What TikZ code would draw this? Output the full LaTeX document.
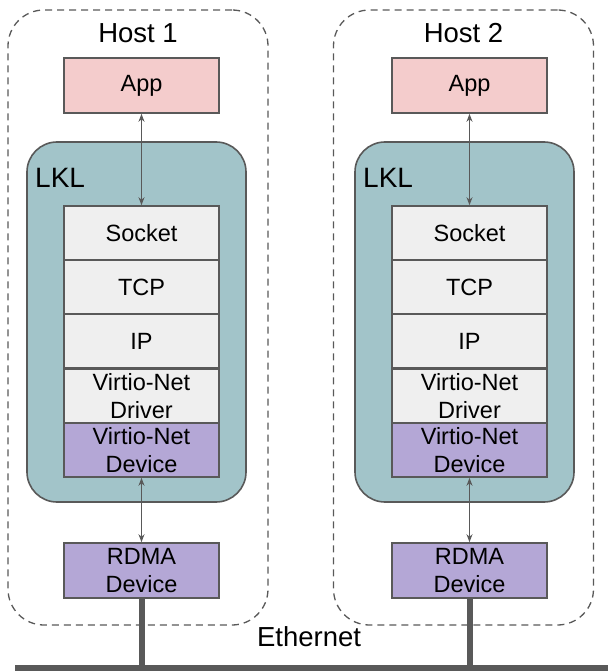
\documentclass[tikz,border=0pt]{standalone}
\usepackage{fontspec}
\setmainfont{Liberation Sans}
\usetikzlibrary{arrows.meta}
\definecolor{edge}{HTML}{595959}
\definecolor{appfill}{HTML}{F4CCCC}
\definecolor{lklfill}{HTML}{A2C4C9}
\definecolor{layerfill}{HTML}{EFEFEF}
\definecolor{devfill}{HTML}{B4A7D6}
\tikzset{
  hostbox/.style={draw=edge, line width=1.3pt, dash pattern=on 7pt off 5pt,
    rounded corners=36pt, minimum width=260pt, minimum height=615pt, inner sep=0pt},
  lklbox/.style={draw=edge, fill=lklfill, line width=1.6pt, rounded corners=30pt,
    minimum width=219pt, minimum height=360pt, inner sep=0pt},
  layer/.style={draw=edge, line width=1.6pt, minimum width=155pt, minimum height=54pt,
    inner sep=0pt, align=center, font=\fontsize{23.5}{28}\selectfont},
  appbox/.style={layer, fill=appfill, minimum height=55pt},
  plainlayer/.style={layer, fill=layerfill},
  devlayer/.style={layer, fill=devfill},
  link/.style={draw=edge, line width=1.6pt, {Stealth[length=8pt,width=6pt]}-{Stealth[length=8pt,width=6pt]}},
  wire/.style={draw=edge, line width=6pt},
  biglabel/.style={font=\fontsize{27.5}{32}\selectfont, inner sep=0pt}
}
\begin{document}
\begin{tikzpicture}[x=1pt,y=-1pt]
\useasboundingbox (0,0) rectangle (608,671);

% Ethernet bus
\coordinate (busL) at (15,668);
\coordinate (busR) at (608,668);
\draw[wire] (busL) -- (busR);
\node[biglabel, anchor=base] (eth) at (309,646) {Ethernet};

\foreach \i/\dx/\bx in {1/0/138, 2/328/463.5} {
  % host outline and title
  \node[hostbox] (host\i) at (\bx,317.5) {};
  \node[biglabel, anchor=base] (title\i) at (\bx,43) {Host \i};
  \begin{scope}[xshift=\dx pt]
    \node[lklbox] (lkl\i) at (136.5,322) {};
    \node[biglabel, anchor=base west, font=\fontsize{28}{32}\selectfont] (lkltxt\i) at (35,187) {LKL};
    \node[appbox] (app\i) at (141.5,85.5) {App};
    \node[plainlayer] (sock\i) at (141.5,233) {Socket};
    \node[plainlayer] (tcp\i) at (141.5,287) {TCP};
    \node[plainlayer] (ip\i) at (141.5,341) {IP};
    \node[plainlayer] (drv\i) at (141.5,396) {Virtio-Net\\Driver};
    \node[devlayer] (dev\i) at (141.5,450) {Virtio-Net\\Device};
    \node[devlayer, minimum height=55pt] (rdma\i) at (141.5,570.5) {RDMA\\Device};
    \coordinate (tap\i) at (141.5,668);
    \draw[link] (app\i.south) -- (sock\i.north);
    \draw[link] (dev\i.south) -- (rdma\i.north);
    \draw[wire] (rdma\i.south) -- (tap\i);
  \end{scope}
}
\end{tikzpicture}
\end{document}
